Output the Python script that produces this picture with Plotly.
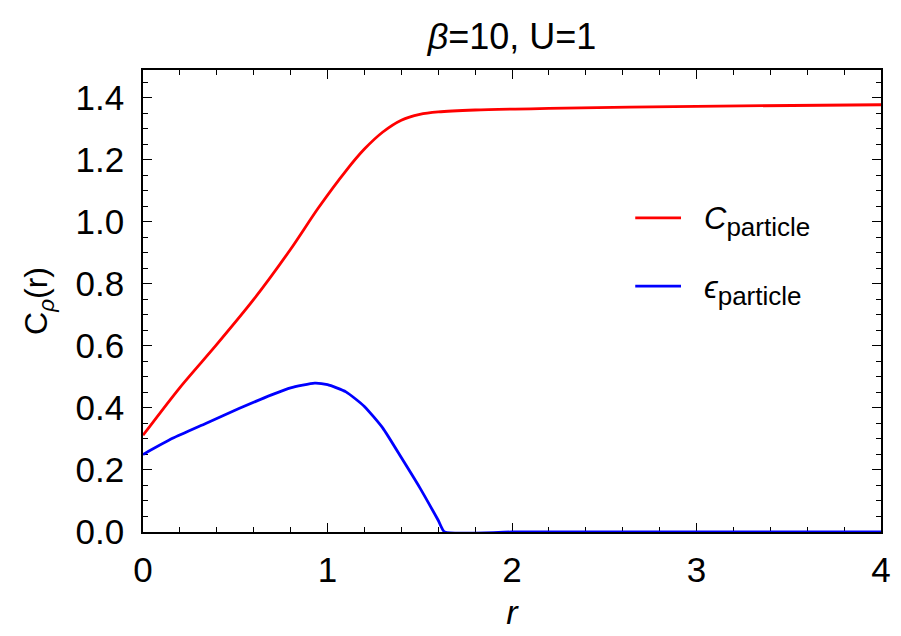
import plotly.graph_objects as go

# Data
r_c = [0.0, 0.2, 0.4, 0.6, 0.8, 0.95, 1.1, 1.2, 1.3, 1.4, 1.5, 1.6, 1.8, 2.2, 3.0, 4.0]
c_particle = [0.312, 0.466, 0.605, 0.750, 0.912, 1.045, 1.165, 1.235, 1.290, 1.328, 1.347,
              1.355, 1.361, 1.366, 1.373, 1.378]

r_e = [0.0, 0.16, 0.34, 0.52, 0.70, 0.80, 0.93, 1.0, 1.1, 1.2, 1.3, 1.4, 1.5, 1.6, 1.635,
       2.0, 3.0, 4.0]
e_particle = [0.250, 0.302, 0.350, 0.398, 0.443, 0.465, 0.480, 0.475, 0.452, 0.405, 0.335,
              0.240, 0.143, 0.038, 0.0, 0.0, 0.0, 0.0]

x_ticks = [0, 1, 2, 3, 4]
y_ticks = [0.0, 0.2, 0.4, 0.6, 0.8, 1.0, 1.2, 1.4]

FONT = "Liberation Sans, Arial, sans-serif"
RED = "#ff0000"
BLUE = "#0000ff"

fig = go.Figure()
fig.add_trace(go.Scatter(x=r_c, y=c_particle, mode="lines", name="C_particle",
                         line=dict(color=RED, width=2.8, shape="spline", smoothing=0.8),
                         cliponaxis=False, showlegend=False))
fig.add_trace(go.Scatter(x=r_e, y=e_particle, mode="lines", name="eps_particle",
                         line=dict(color=BLUE, width=2.8, shape="spline", smoothing=0.5),
                         cliponaxis=False, showlegend=False))

axis_common = dict(
    showline=True, linecolor="black", linewidth=1.5, mirror="ticks",
    ticks="inside", ticklen=9, tickwidth=1.3, tickcolor="black",
    showgrid=False, zeroline=False,
    tickfont=dict(family=FONT, size=35, color="black"),
    layer="below traces",
)

fig.update_xaxes(range=[0, 4], tickvals=x_ticks, ticklabelstandoff=6,
                 minor=dict(ticks="inside", ticklen=5, tickwidth=1.2, tickcolor="black",
                            dtick=0.2, tick0=0, showgrid=False),
                 title=dict(text="<i>r</i>", font=dict(family=FONT, size=34, color="black"),
                            standoff=12),
                 **axis_common)
fig.update_yaxes(range=[0, 1.49], tickvals=y_ticks, tickformat=".1f", ticklabelstandoff=10,
                 minor=dict(ticks="inside", ticklen=5, tickwidth=1.2, tickcolor="black",
                            dtick=0.05, tick0=0, showgrid=False),
                 title=dict(text="C<sub><i>ρ</i></sub>(r)",
                            font=dict(family=FONT, size=32, color="black"), standoff=18),
                 **axis_common)

# Legend drawn as line samples + labels
legend_items = [("<i>C</i><sub><span style='font-size:26px'>particle</span></sub>", RED, 0.680),
                ("<i>ϵ</i><sub><span style='font-size:26px'>particle</span></sub>", BLUE, 0.532)]
for text, col, yy in legend_items:
    fig.add_shape(type="line", xref="paper", yref="paper", x0=0.667, x1=0.729, y0=yy, y1=yy,
                  line=dict(color=col, width=2.8))
    fig.add_annotation(xref="paper", yref="paper", x=0.757, y=yy, text=text, showarrow=False,
                       xanchor="left", yanchor="middle", yshift=-4,
                       font=dict(family=FONT, size=31, color="black"))

fig.update_layout(
    width=901, height=636,
    margin=dict(l=143, r=10, t=70, b=104),
    paper_bgcolor="white", plot_bgcolor="white",
    title=dict(text="<i>β</i>=10, U=1", x=0.5, xref="paper", xanchor="center",
               y=1 - 36 / 636, yref="container", yanchor="middle",
               font=dict(family=FONT, size=36, color="black")),
    showlegend=False,
)

fig.write_html("out.html")
